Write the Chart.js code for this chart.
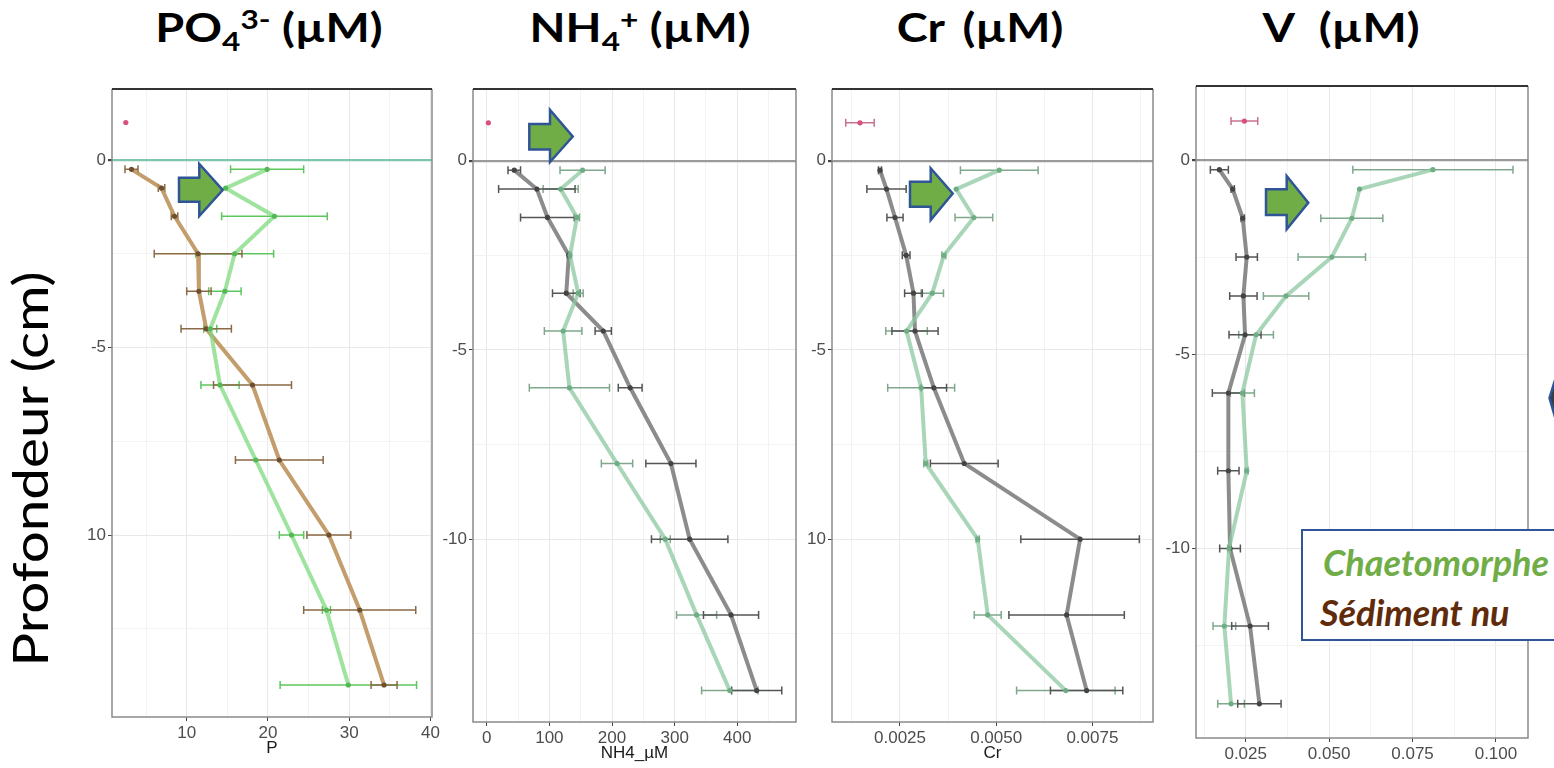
<!DOCTYPE html>
<html><head><meta charset="utf-8">
<script src="https://cdn.jsdelivr.net/npm/chart.js@4.4.0/dist/chart.umd.min.js"></script>
<style>
body{margin:0;width:1554px;height:768px;overflow:hidden;background:#fff;position:relative;font-family:Lato,"Open Sans",sans-serif;}
canvas{position:absolute;}
.ttl{position:absolute;top:3px;width:400px;text-align:center;font:bold 40px Lato;line-height:48px;color:#000;white-space:nowrap;transform:scaleX(1.17);}
.ttl .sb{font-size:27px;position:relative;top:9px;}
.ttl .sp{font-size:27px;position:relative;top:-13px;}
#ylab{position:absolute;left:-219px;top:439px;width:500px;height:60px;line-height:60px;text-align:center;font:48px Lato;color:#000;transform:rotate(-90deg) scaleX(1.18);white-space:nowrap;}
#legend{position:absolute;left:1301px;top:529px;width:300px;height:112px;border:2.5px solid #2f5597;background:#fff;box-sizing:border-box;z-index:5;}
#legend div{position:absolute;font:italic bold 36px Lato;white-space:nowrap;line-height:40px;}
svg{position:absolute;left:0;top:0;z-index:6;}
</style></head><body>
<script>
// ---------- DATA ----------
const depths = [-0.25, -0.75, -1.5, -2.5, -3.5, -4.5, -6, -8, -10, -12, -14];
const surfaceDepth = [1];

const poSed       = [3.2, 6.9, 8.5, 11.4, 11.5, 12.4, 18.1, 21.4, 27.5, 31.3, 34.3];
const poSedErr    = [0.8, 0.4, 0.4, 5.4, 1.5, 3.1, 4.8, 5.4, 2.7, 6.9, 1.6];
const poChaeto    = [19.9, 14.8, 20.8, 15.9, 14.7, 12.9, 14.1, 18.5, 22.9, 27.2, 29.9];
const poChaetoErr = [4.5, 0, 6.5, 4.8, 2.0, 0.8, 2.35, 0, 1.5, 0.5, 8.4];
const poSurface   = [2.5];
const poSurfaceErr= [0];

const nhSed       = [44, 80, 97, 131, 127, 186, 229, 294, 324, 390, 431];
const nhSedErr    = [10, 61, 43, 2, 22, 13, 19, 40, 61, 44, 40];
const nhChaeto    = [153, 118, 144, 133, 146, 122, 132, 208, 285, 335, 388];
const nhChaetoErr = [36, 28, 4, 2, 8, 30, 64, 25, 8, 32, 45];
const nhSurface   = [2.6];
const nhSurfaceErr= [0];

const crSed       = [0.00198, 0.00215, 0.00237, 0.00266, 0.00285, 0.00289, 0.00338, 0.00417, 0.00718, 0.00683, 0.00735];
const crSedErr    = [0.00004, 0.00051, 0.00021, 0.0001, 0.00023, 0.0006, 0.00033, 0.00088, 0.00154, 0.0015, 0.00094];
const crChaeto    = [0.00508, 0.00396, 0.00442, 0.00364, 0.00334, 0.00267, 0.00305, 0.00317, 0.00452, 0.00478, 0.00681];
const crChaetoErr = [0.00101, 0, 0.00049, 0.00005, 0.00029, 0.00054, 0.00087, 0.00005, 0.00004, 0.00035, 0.00128];
const crSurface   = [0.00146];
const crSurfaceErr= [0.00037];

const vSed        = [0.0171, 0.0211, 0.0241, 0.0253, 0.0243, 0.0248, 0.0198, 0.0198, 0.0203, 0.0263, 0.0291];
const vSedErr     = [0.0027, 0.0005, 0.0005, 0.0032, 0.0041, 0.0048, 0.0048, 0.0032, 0.0031, 0.0055, 0.0065];
const vChaeto     = [0.0811, 0.0591, 0.0568, 0.0508, 0.0371, 0.0281, 0.024, 0.0253, 0.0200, 0.0186, 0.0206];
const vChaetoErr  = [0.024, 0, 0.0093, 0.0101, 0.0068, 0.0052, 0.0036, 0.0004, 0.0004, 0.0034, 0.004];
const vSurface    = [0.0246];
const vSurfaceErr = [0.004];

// tick values / labels
const yMajorTicks = [0, -5, -10];
const yMinorTicks = [-2.5, -7.5, -12.5];
const yLabelsA = ['0', '-5', '10'];
const yLabelsB = ['0', '-5', '-10'];

const poXMajor = [10, 20, 30, 40];          const poXMinor = [5, 15, 25, 35];
const poXLabels = ['10', '20', '30', '40'];
const nhXMajor = [0, 100, 200, 300, 400];   const nhXMinor = [50, 150, 250, 350, 450];
const nhXLabels = ['0', '100', '200', '300', '400'];
const crXMajor = [0.0025, 0.005, 0.0075];   const crXMinor = [0.00125, 0.00375, 0.00625, 0.00875];
const crXLabels = ['0.0025', '0.0050', '0.0075'];
const vXMajor = [0.025, 0.05, 0.075, 0.1];  const vXMinor = [0.0125, 0.0375, 0.0625, 0.0875];
const vXLabels = ['0.025', '0.050', '0.075', '0.100'];

const panelTitles = ['PO<span class="sb">4</span><span class="sp">3-</span> (µM)', 'NH<span class="sb">4</span><span class="sp">+</span> (µM)', 'Cr (µM)', 'V (µM)'];
const xTitles = ['P', 'NH4_µM', 'Cr', ''];
const legendLabels = ['Chaetomorphe', 'Sédiment nu'];
const yTitle = 'Profondeur (cm)';
</script>

<div id="ylab"></div>
<div id="legend"><div id="lg1" style="left:20px;top:11px;color:#70ad47"></div><div id="lg2" style="left:17px;top:61px;color:#602b0b"></div></div>
<svg width="1554" height="768">
  <g fill="#70ad47" stroke="#2f5597" stroke-width="2.5" stroke-linejoin="miter">
    <polygon points="179,177.7 199.3,177.7 199.3,164 222.7,190 199.3,216 199.3,201.7 179,201.7"/>
    <polygon points="529.3,124 550,124 550,110 572.7,136.5 550,162 550,149.5 529.3,149.5"/>
    <polygon points="910,181.7 930.7,181.7 930.7,168.3 952.7,193.5 930.7,220 930.7,206.7 910,206.7"/>
    <polygon points="1266,189.3 1286.7,189.3 1286.7,176 1308.3,202.7 1286.7,229.3 1286.7,215 1266,215"/>
  </g>
  <polygon points="1555,380 1549.5,398 1555,417" fill="#3a3a3a" stroke="#2f5597" stroke-width="2.5"/>
</svg>

<script>
document.getElementById('ylab').textContent = yTitle;
document.getElementById('lg1').textContent = legendLabels[0];
document.getElementById('lg2').textContent = legendLabels[1];

Chart.defaults.font.family = '"Liberation Sans", Arial, sans-serif';
Chart.defaults.animation = false;

const errorBarPlugin = {
  id: 'errbars',
  beforeDatasetsDraw(chart) {
    const ctx = chart.ctx, xs = chart.scales.x, ys = chart.scales.y;
    chart.data.datasets.forEach(ds => {
      if (!ds.errors) return;
      ctx.save();
      ctx.strokeStyle = ds.errColor;
      ctx.lineWidth = 1.5;
      ds.data.forEach((p, i) => {
        const e = ds.errors[i];
        if (!e) return;
        const x1 = xs.getPixelForValue(p.x - e), x2 = xs.getPixelForValue(p.x + e), y = ys.getPixelForValue(p.y);
        ctx.beginPath();
        ctx.moveTo(x1, y); ctx.lineTo(x2, y);
        ctx.moveTo(x1, y - 4); ctx.lineTo(x1, y + 4);
        ctx.moveTo(x2, y - 4); ctx.lineTo(x2, y + 4);
        ctx.stroke();
      });
      ctx.restore();
    });
  }
};
const framePlugin = {
  id: 'frame',
  afterDatasetsDraw(chart) {
    const {ctx, chartArea: a} = chart;
    ctx.save();
    ctx.strokeStyle = '#8a8a8a'; ctx.lineWidth = 1.5;
    ctx.beginPath();
    ctx.moveTo(a.left, a.top); ctx.lineTo(a.left, a.bottom); ctx.lineTo(a.right, a.bottom); ctx.lineTo(a.right, a.top);
    ctx.stroke();
    ctx.strokeStyle = '#333'; ctx.lineWidth = 2;
    ctx.beginPath(); ctx.moveTo(a.left, a.top); ctx.lineTo(a.right, a.top); ctx.stroke();
    ctx.restore();
  }
};

function mkTicks(majors, minors, labels) {
  const t = majors.map((v, i) => ({value: v, lbl: labels[i]})).concat(minors.map(v => ({value: v, lbl: ''})));
  return t.sort((a, b) => a.value - b.value);
}
function pts(xs, ys) { return xs.map((x, i) => ({x: x, y: ys[i]})); }

const panels = [
  {L:112, R:432, T:89, B:717, xmin:0.8, xmax:40.2, ymin:-14.853, ymax:1.893,
   xM:poXMajor, xm:poXMinor, xl:poXLabels, yl:yLabelsA, sed:poSed, sedE:poSedErr, ch:poChaeto, chE:poChaetoErr, sf:poSurface, sfE:poSurfaceErr,
   sedLine:'rgba(184,140,82,0.85)', sedPt:'#6e5030', sedErr:'#8a6a45', chLine:'rgba(125,218,125,0.75)', chPt:'#55b855', chErr:'#5dc75d',
   zero:'rgba(120,195,165,0.95)', tpad:10, title:0, cx:269, ws:0},
  {L:473, R:796, T:89, B:722, xmin:-21.9, xmax:493.7, ymin:-14.83, ymax:1.894,
   xM:nhXMajor, xm:nhXMinor, xl:nhXLabels, yl:yLabelsB, sed:nhSed, sedE:nhSedErr, ch:nhChaeto, chE:nhChaetoErr, sf:nhSurface, sfE:nhSurfaceErr,
   sedLine:'rgba(120,120,120,0.85)', sedPt:'#444', sedErr:'#555', chLine:'rgba(140,200,160,0.75)', chPt:'#6fae85', chErr:'#7fa88c',
   zero:'#9a9a9a', tpad:10, title:1, cx:640, ws:0},
  {L:832, R:1153, T:89, B:722, xmin:0.000733, xmax:0.009075, ymin:-14.83, ymax:1.895,
   xM:crXMajor, xm:crXMinor, xl:crXLabels, yl:yLabelsA, sed:crSed, sedE:crSedErr, ch:crChaeto, chE:crChaetoErr, sf:crSurface, sfE:crSurfaceErr,
   sedLine:'rgba(120,120,120,0.85)', sedPt:'#444', sedErr:'#555', chLine:'rgba(140,200,160,0.75)', chPt:'#6fae85', chErr:'#7fa88c',
   zero:'#9a9a9a', tpad:10, title:2, cx:980, ws:6},
  {L:1196, R:1528, T:86, B:738, xmin:0.0101, xmax:0.1096, ymin:-14.88, ymax:1.904,
   xM:vXMajor, xm:vXMinor, xl:vXLabels, yl:yLabelsB, sed:vSed, sedE:vSedErr, ch:vChaeto, chE:vChaetoErr, sf:vSurface, sfE:vSurfaceErr,
   sedLine:'rgba(120,120,120,0.85)', sedPt:'#444', sedErr:'#555', chLine:'rgba(140,200,160,0.75)', chPt:'#6fae85', chErr:'#7fa88c',
   zero:'#9a9a9a', tpad:10, title:3, cx:1341, ws:12}
];

const YW = 60, XH = 52, PT = 14, PR = 26;
panels.forEach((p, k) => {
  const t = document.createElement('div');
  t.className = 'ttl'; t.style.left = (p.cx - 200) + 'px'; t.style.wordSpacing = p.ws + 'px';
  t.innerHTML = panelTitles[p.title];
  document.body.appendChild(t);

  const c = document.createElement('canvas');
  const w = p.R - p.L + YW + PR, h = p.B - p.T + PT + XH;
  c.width = w; c.height = h;
  c.style.left = (p.L - YW) + 'px'; c.style.top = (p.T - PT) + 'px';
  c.style.width = w + 'px'; c.style.height = h + 'px';
  document.body.appendChild(c);

  const xt = mkTicks(p.xM, p.xm, p.xl);
  const yt = mkTicks(yMajorTicks, yMinorTicks, p.yl);

  new Chart(c, {
    type: 'scatter',
    data: { datasets: [
      {data: pts(p.ch, depths), errors: p.chE, errColor: p.chErr, showLine: true, borderColor: p.chLine, borderWidth: 4,
       pointRadius: 2.6, pointBackgroundColor: p.chPt, pointBorderWidth: 0},
      {data: pts(p.sed, depths), errors: p.sedE, errColor: p.sedErr, showLine: true, borderColor: p.sedLine, borderWidth: 4,
       pointRadius: 2.6, pointBackgroundColor: p.sedPt, pointBorderWidth: 0},
      {data: pts(p.sf, surfaceDepth), errors: p.sfE, errColor: '#c9708f', showLine: false,
       pointRadius: 2.6, pointBackgroundColor: '#d94f7e', pointBorderWidth: 0}
    ]},
    options: {
      responsive: false, animation: false, events: [],
      layout: {padding: {top: PT, right: PR, left: 0, bottom: 0}},
      plugins: {legend: {display: false}, tooltip: {enabled: false}},
      scales: {
        x: {
          type: 'linear', min: p.xmin, max: p.xmax,
          afterBuildTicks: s => { s.ticks = xt.map(o => ({value: o.value, lbl: o.lbl})); },
          afterFit: s => { s.height = XH; },
          border: {display: false},
          grid: {
            color: ctx => (ctx.tick && ctx.tick.lbl) ? '#e8e8e8' : '#f3f3f3',
            tickColor: ctx => (ctx.tick && ctx.tick.lbl) ? '#444' : 'rgba(0,0,0,0)',
            tickLength: 4, lineWidth: 1
          },
          ticks: {autoSkip: false, maxRotation: 0, minRotation: 0, padding: 2, color: '#4d4d4d', font: {size: 17},
                  callback: (v, i, ticks) => ticks[i].lbl},
          title: {display: !!xTitles[k], text: xTitles[k], color: '#1a1a1a', font: {size: 17}, padding: {top: 0, bottom: p.tpad}}
        },
        y: {
          type: 'linear', min: p.ymin, max: p.ymax,
          afterBuildTicks: s => { s.ticks = yt.map(o => ({value: o.value, lbl: o.lbl})); },
          afterFit: s => { s.width = YW; },
          border: {display: false},
          grid: {
            color: ctx => (ctx.tick && ctx.tick.value === 0) ? p.zero : ((ctx.tick && ctx.tick.lbl) ? '#e8e8e8' : '#f3f3f3'),
            lineWidth: ctx => (ctx.tick && ctx.tick.value === 0) ? 2.2 : 1,
            tickColor: ctx => (ctx.tick && ctx.tick.lbl) ? '#444' : 'rgba(0,0,0,0)',
            tickLength: 4
          },
          ticks: {autoSkip: false, padding: 2, color: '#4d4d4d', font: {size: 17},
                  callback: (v, i, ticks) => ticks[i].lbl}
        }
      }
    },
    plugins: [errorBarPlugin, framePlugin]
  });
});
</script>
</body></html>
